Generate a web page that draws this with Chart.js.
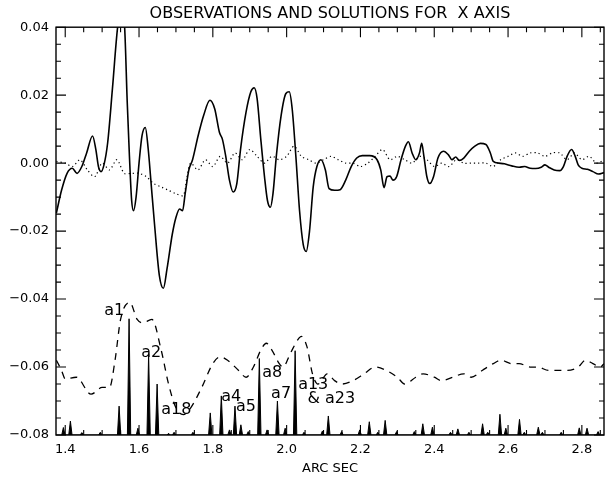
<!DOCTYPE html>
<html lang="en">
<head>
<meta charset="UTF-8">
<title>Observations and solutions for X axis</title>
<script src="https://cdn.jsdelivr.net/npm/chart.js"></script>
<style>
  body { margin: 0; background: #ffffff; }
  #wrap { width: 606px; height: 477px; }
</style>
</head>
<body>
<div id="wrap"><canvas id="chart" width="606" height="477"></canvas></div>
<script>
// axis ticks
var xTicks = [1.4, 1.6, 1.8, 2.0, 2.2, 2.4, 2.6, 2.8];
var yTicks = [-0.08, -0.06, -0.04, -0.02, 0.00, 0.02, 0.04];

// observations (solid)
var obsX = [1.376, 1.39, 1.405, 1.419, 1.432, 1.445, 1.458, 1.474, 1.483, 1.49, 1.497, 1.505, 1.515, 1.528,
  1.542, 1.552, 1.561, 1.568, 1.574, 1.58, 1.585, 1.592, 1.60, 1.608, 1.617, 1.625, 1.632, 1.642, 1.655,
  1.666, 1.676, 1.69, 1.70, 1.71, 1.718, 1.725, 1.735, 1.745, 1.76, 1.775, 1.792, 1.805, 1.818, 1.826,
  1.835, 1.845, 1.855, 1.865, 1.875, 1.89, 1.903, 1.912, 1.92, 1.93, 1.94, 1.948, 1.956, 1.963, 1.972,
  1.985, 1.998, 2.007, 2.015, 2.025, 2.035, 2.045, 2.053, 2.062, 2.072, 2.082, 2.093, 2.105, 2.115,
  2.13, 2.145, 2.16, 2.175, 2.19, 2.205, 2.225, 2.245, 2.255, 2.264, 2.272, 2.28, 2.288, 2.298, 2.31,
  2.322, 2.33, 2.34, 2.35, 2.36, 2.366, 2.372, 2.38, 2.388, 2.398, 2.41, 2.425, 2.438, 2.448, 2.458,
  2.468, 2.48, 2.495, 2.51, 2.525, 2.54, 2.552, 2.56, 2.575, 2.59, 2.61, 2.63, 2.645, 2.66, 2.675, 2.69,
  2.70, 2.71, 2.725, 2.74, 2.75, 2.76, 2.772, 2.782, 2.79, 2.80, 2.815, 2.83, 2.845, 2.86];
var obsY = [-0.0147, -0.008, -0.003, -0.0015, -0.003, -0.001, 0.003, 0.008, 0.004, -0.001, -0.0025, -0.0005, 0.006, 0.022,
  0.040, 0.046, 0.040, 0.018, 0.002, -0.011, -0.014, -0.010, 0.000, 0.008, 0.0105, 0.004, -0.005, -0.018, -0.033,
  -0.0368, -0.031, -0.021, -0.016, -0.0135, -0.014, -0.009, -0.002, 0.001, 0.008, 0.014, 0.0185, 0.016, 0.009, 0.007,
  0.002, -0.005, -0.0085, -0.006, 0.004, 0.015, 0.021, 0.0222, 0.019, 0.007, -0.004, -0.011, -0.013, -0.009, 0.002,
  0.014, 0.0205, 0.021, 0.016, 0.002, -0.014, -0.024, -0.026, -0.020, -0.007, -0.001, 0.001, -0.002, -0.0075,
  -0.008, -0.0078, -0.005, -0.001, 0.0015, 0.0022, 0.0022, 0.001, -0.002, -0.0072, -0.004, -0.0038, -0.005, -0.004, 0.001,
  0.005, 0.0063, 0.003, 0.001, 0.003, 0.0058, 0.002, -0.004, -0.006, -0.004, 0.0015, 0.0035, 0.0025, 0.001, 0.0018,
  0.0008, 0.0015, 0.0035, 0.005, 0.0058, 0.0055, 0.003, 0.0005, 0.0, -0.0002, -0.0008, -0.0012, -0.001, -0.0015, -0.0016, -0.0012,
  -0.0005, -0.0012, -0.002, -0.0022, -0.001, 0.002, 0.004, 0.002, -0.0005, -0.0015, -0.0018, -0.0025, -0.0032, -0.0028];

// model residual (dotted)
var dotX = [1.376, 1.40, 1.42, 1.44, 1.46, 1.48, 1.50, 1.52, 1.54, 1.56, 1.58, 1.60, 1.62, 1.64, 1.66, 1.68,
  1.70, 1.72, 1.73, 1.74, 1.76, 1.78, 1.80, 1.82, 1.84, 1.86, 1.88, 1.90, 1.92, 1.94, 1.96, 1.98, 2.00,
  2.02, 2.04, 2.06, 2.08, 2.10, 2.12, 2.14, 2.16, 2.18, 2.20, 2.22, 2.24, 2.26, 2.28, 2.30, 2.32, 2.34,
  2.36, 2.38, 2.40, 2.42, 2.44, 2.46, 2.48, 2.50, 2.52, 2.54, 2.56, 2.58, 2.60, 2.62, 2.64, 2.66, 2.68,
  2.70, 2.72, 2.74, 2.76, 2.78, 2.80, 2.82, 2.84, 2.86];
var dotY = [0.0005, 0.0, -0.001, 0.001, -0.002, -0.004, 0.000, -0.002, 0.001, -0.003, -0.003, -0.003, -0.004, -0.006, -0.007, -0.008,
  -0.009, -0.0095, -0.004, 0.000, -0.002, 0.001, -0.001, 0.002, 0.000, 0.003, 0.001, 0.004, 0.002, 0.000, 0.002, 0.001, 0.002,
  0.005, 0.002, 0.001, 0.000, 0.001, 0.002, 0.001, 0.000, 0.000, -0.001, 0.000, 0.002, 0.004, 0.001, 0.002, 0.001, 0.000,
  0.002, 0.001, -0.001, 0.000, -0.001, 0.001, 0.000, 0.000, 0.000, 0.000, -0.001, 0.001, 0.002, 0.003, 0.002, 0.003, 0.003,
  0.002, 0.003, 0.003, 0.001, 0.003, 0.001, 0.002, 0.000, 0.001];

// smoothed solution (dashed)
var dashX = [1.376, 1.39, 1.40, 1.43, 1.47, 1.50, 1.52, 1.535, 1.55, 1.575, 1.595, 1.61, 1.635, 1.66, 1.68, 1.70,
  1.72, 1.74, 1.77, 1.80, 1.82, 1.84, 1.87, 1.89, 1.91, 1.93, 1.945, 1.96, 1.98, 1.99, 2.01, 2.03, 2.04,
  2.055, 2.07, 2.085, 2.11, 2.13, 2.15, 2.18, 2.21, 2.24, 2.27, 2.30, 2.32, 2.35, 2.37, 2.40, 2.42, 2.45,
  2.48, 2.50, 2.53, 2.56, 2.58, 2.61, 2.63, 2.66, 2.68, 2.71, 2.74, 2.76, 2.79, 2.81, 2.83, 2.85, 2.86];
var dashY = [-0.058, -0.061, -0.0635, -0.063, -0.068, -0.066, -0.066, -0.058, -0.046, -0.041, -0.046, -0.047, -0.046, -0.055, -0.065, -0.072,
  -0.074, -0.072, -0.066, -0.059, -0.057, -0.058, -0.061, -0.063, -0.060, -0.055, -0.053, -0.055, -0.059, -0.060, -0.056, -0.052, -0.051,
  -0.054, -0.062, -0.065, -0.062, -0.064, -0.065, -0.064, -0.062, -0.060, -0.061, -0.063, -0.065, -0.063, -0.062, -0.063, -0.064, -0.063,
  -0.062, -0.063, -0.061, -0.059, -0.058, -0.059, -0.059, -0.060, -0.060, -0.061, -0.061, -0.061, -0.060, -0.058, -0.059, -0.060, -0.059];

// solution components (spikes from the -0.08 floor)
var spikeX = [1.395, 1.414, 1.445, 1.495, 1.546, 1.573, 1.597, 1.626, 1.649, 1.68, 1.695, 1.746, 1.793, 1.823,
  1.845, 1.86, 1.876, 1.896, 1.926, 1.947, 1.975, 1.996, 2.023, 2.047, 2.097, 2.113, 2.149, 2.198, 2.224,
  2.247, 2.267, 2.298, 2.346, 2.369, 2.395, 2.444, 2.464, 2.494, 2.531, 2.545, 2.578, 2.594, 2.631, 2.644,
  2.682, 2.693, 2.744, 2.793, 2.814, 2.844];
var spikeTop = [-0.0778, -0.0759, -0.0793, -0.0792, -0.0715, -0.0458, -0.078, -0.0562, -0.065, -0.0795, -0.0792, -0.0792, -0.0735, -0.0685,
  -0.0785, -0.0715, -0.077, -0.079, -0.0575, -0.0785, -0.070, -0.078, -0.0552, -0.0792, -0.0788, -0.0744, -0.079, -0.0785, -0.0761,
  -0.0792, -0.0757, -0.079, -0.079, -0.0767, -0.0777, -0.0792, -0.0782, -0.0792, -0.0767, -0.0792, -0.0739, -0.078, -0.0754, -0.0792,
  -0.0777, -0.0792, -0.0792, -0.0779, -0.078, -0.079];

// component labels
var labelText = ['a1', 'a2', 'a18', 'a4', 'a5', 'a8', 'a7', 'a13', '& a23'];
var labelX = [1.533, 1.633, 1.701, 1.850, 1.890, 1.961, 1.985, 2.072, 2.121];
var labelY = [-0.0435, -0.0559, -0.0726, -0.0688, -0.0718, -0.0618, -0.068, -0.0653, -0.0694];

var FONT = '"DejaVu Sans", Verdana, sans-serif';
var X_MIN = 1.375, X_MAX = 2.86;
var Y_MIN = -0.08, Y_MAX = 0.04;
var SPIKE_HALF = 0.0045;

function pts(xs, ys) {
  return xs.map(function (v, i) { return { x: v, y: ys[i] }; });
}

var spikePts = [];
spikeX.forEach(function (v, i) {
  spikePts.push({ x: v - SPIKE_HALF, y: Y_MIN }, { x: v, y: spikeTop[i] }, { x: v + SPIKE_HALF, y: Y_MIN });
});

// frame with inward ticks on all four sides, plus the component labels
var framePlugin = {
  id: 'frame',
  afterDraw: function (chart) {
    var ctx = chart.ctx, a = chart.chartArea;
    var xs = chart.scales.x, ys = chart.scales.y;
    ctx.save();
    ctx.strokeStyle = '#000';
    ctx.lineWidth = 1.4;
    ctx.strokeRect(a.left, a.top, a.right - a.left, a.bottom - a.top);
    ctx.lineWidth = 1.1;
    ctx.beginPath();
    for (var k = Math.ceil(X_MIN / 0.05); k * 0.05 <= X_MAX + 1e-9; k++) {
      var px = xs.getPixelForValue(k * 0.05);
      var len = (k % 4 === 0) ? 10 : 5;
      ctx.moveTo(px, a.bottom); ctx.lineTo(px, a.bottom - len);
      ctx.moveTo(px, a.top); ctx.lineTo(px, a.top + len);
    }
    for (var j = Math.round(Y_MIN / 0.005); j <= Math.round(Y_MAX / 0.005); j++) {
      var py = ys.getPixelForValue(j * 0.005);
      var l2 = (j % 4 === 0) ? 10 : 5;
      ctx.moveTo(a.left, py); ctx.lineTo(a.left + l2, py);
      ctx.moveTo(a.right, py); ctx.lineTo(a.right - l2, py);
    }
    ctx.stroke();

    ctx.fillStyle = '#000';
    ctx.font = '16px ' + FONT;
    ctx.textAlign = 'center';
    ctx.textBaseline = 'middle';
    labelText.forEach(function (t, i) {
      ctx.fillText(t, xs.getPixelForValue(labelX[i]), ys.getPixelForValue(labelY[i]));
    });
    ctx.restore();
  }
};

var ctx = document.getElementById('chart').getContext('2d');
var chart = new Chart(ctx, {
  type: 'line',
  data: {
    datasets: [{
      label: 'Observations',
      data: pts(obsX, obsY),
      borderColor: '#000',
      borderWidth: 1.6,
      pointRadius: 0,
      cubicInterpolationMode: 'monotone',
      clip: 0
    }, {
      label: 'Residual',
      data: pts(dotX, dotY),
      borderColor: '#000',
      borderWidth: 1.2,
      borderDash: [1.2, 3],
      pointRadius: 0,
      tension: 0.3,
      clip: 0
    }, {
      label: 'Smoothed solution',
      data: pts(dashX, dashY),
      borderColor: '#000',
      borderWidth: 1.3,
      borderDash: [7, 6],
      pointRadius: 0,
      cubicInterpolationMode: 'monotone',
      clip: 0
    }, {
      label: 'Components',
      data: spikePts,
      borderColor: '#000',
      backgroundColor: '#000',
      borderWidth: 1,
      pointRadius: 0,
      tension: 0,
      fill: { value: Y_MIN },
      clip: 0
    }]
  },
  options: {
    responsive: false,
    animation: false,
    devicePixelRatio: 1,
    layout: { padding: { left: 0, right: 2, top: 0, bottom: 0 } },
    plugins: {
      legend: { display: false },
      tooltip: { enabled: false },
      title: {
        display: true,
        fullSize: false,
        text: 'OBSERVATIONS AND SOLUTIONS FOR  X AXIS',
        color: '#000',
        font: { family: FONT, size: 16, weight: 'normal' },
        padding: { top: 4, bottom: 4 }
      }
    },
    scales: {
      x: {
        type: 'linear',
        min: X_MIN,
        max: X_MAX,
        afterBuildTicks: function (s) { s.ticks = xTicks.map(function (v) { return { value: v }; }); },
        afterFit: function (s) { s.height = 42; },
        grid: { display: false, drawTicks: false },
        border: { display: false },
        ticks: {
          color: '#000',
          font: { family: FONT, size: 13 },
          padding: 7,
          maxRotation: 0,
          autoSkip: false,
          callback: function (v) { return Number(v).toFixed(1); }
        },
        title: {
          display: true,
          text: 'ARC SEC',
          color: '#000',
          font: { family: FONT, size: 13 },
          padding: { top: 0, bottom: 1 }
        }
      },
      y: {
        type: 'linear',
        min: Y_MIN,
        max: Y_MAX,
        afterBuildTicks: function (s) { s.ticks = yTicks.map(function (v) { return { value: v }; }); },
        afterFit: function (s) { s.width = 56; },
        grid: { display: false, drawTicks: false },
        border: { display: false },
        ticks: {
          color: '#000',
          font: { family: FONT, size: 13 },
          padding: 7,
          callback: function (v) {
            var s = Math.abs(v).toFixed(2);
            return (v < -1e-9 ? '\u2212' : '') + s;
          }
        }
      }
    }
  },
  plugins: [framePlugin]
});
</script>
</body>
</html>
